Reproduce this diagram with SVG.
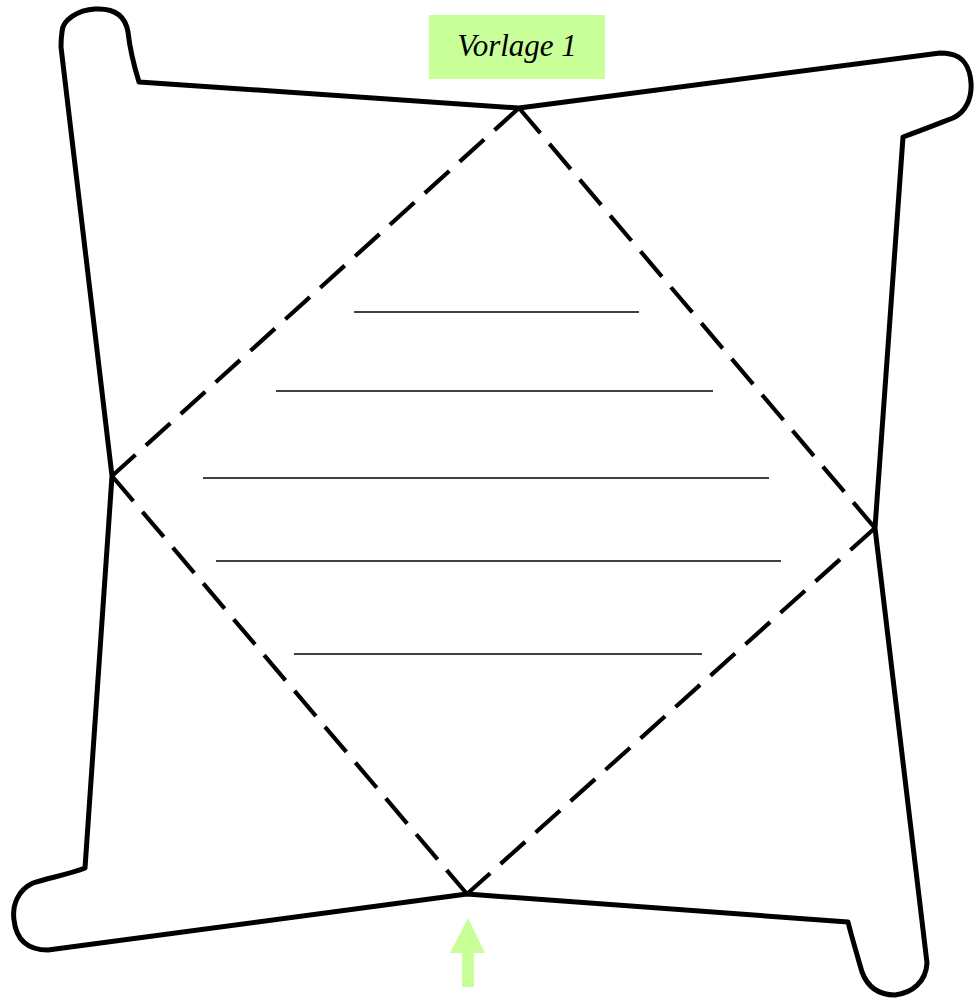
<svg xmlns="http://www.w3.org/2000/svg" width="974" height="998" viewBox="0 0 974 998">
<style>
.outline{fill:none;stroke:#000;stroke-width:5;stroke-linejoin:round;stroke-linecap:butt}
.dash{fill:none;stroke:#000;stroke-width:4.2;stroke-dasharray:33 14}
.rule{stroke:#000;stroke-width:1.6}
.green{fill:#c8ff99}
.label{font-family:"Liberation Serif","DejaVu Serif",serif;font-style:italic;font-size:31px;fill:#000}
</style>
<rect width="974" height="998" fill="#fff"/>
<g id="outline">
<path class="outline" d="M519,108 L139,82 C134,66 130,50 128,32 C125,14 112,8 95,9 C78,10 62,20 62,32 C61,38 61,42 61,47 L112,476 L85,868 C70,874 48,878 33,883 C18,890 12,905 14,920 C16,938 26,950 48,950 L467,894 L848,922 C852,938 858,958 862,972 C868,988 880,995 895,995 C912,993 926,982 927,963 L875,528 L903,137 C920,131 935,125 953,118 C966,112 972,98 971,83 C970,66 962,56 950,54 C946,53 943,53 940,53 Z"/>
</g>
<g id="connectors">
<line class="dash" x1="519" y1="108" x2="112" y2="476"/>
<line class="dash" x1="519" y1="108" x2="875" y2="528"/>
<line class="dash" x1="112" y1="476" x2="467" y2="894"/>
<line class="dash" x1="875" y1="528" x2="467" y2="894"/>
</g>
<g id="rules">
<line class="rule" x1="354" y1="312" x2="639" y2="312"/>
<line class="rule" x1="276" y1="391" x2="713" y2="391"/>
<line class="rule" x1="203" y1="478" x2="769" y2="478"/>
<line class="rule" x1="216" y1="561" x2="781" y2="561"/>
<line class="rule" x1="294" y1="654" x2="702" y2="654"/>
</g>
<g id="label">
<rect class="green" x="429" y="15" width="176" height="64"/>
<text class="label" x="517" y="56" text-anchor="middle">Vorlage 1</text>
</g>
<g id="arrow">
<path class="green" d="M468,918 L485,953 L474,953 L474,987 L462,987 L462,953 L450,953 Z"/>
</g>
</svg>
